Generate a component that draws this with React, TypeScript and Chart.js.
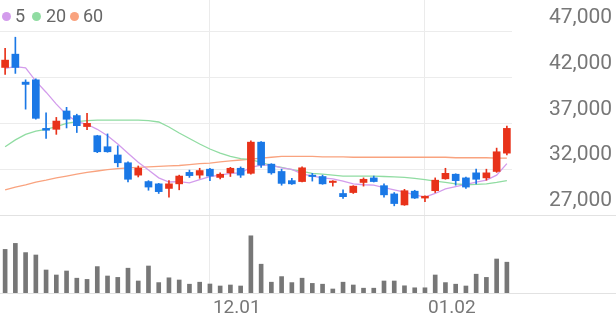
import React, { useEffect, useRef } from 'react';
import { Chart, registerables } from 'chart.js';

Chart.register(...registerables);

const dates = ['11.03','11.04','11.07','11.08','11.09','11.10','11.11','11.14','11.15','11.16','11.17','11.18','11.21','11.22','11.23','11.24','11.25','11.28','11.29','11.30','12.01','12.02','12.05','12.06','12.07','12.08','12.09','12.12','12.13','12.14','12.15','12.16','12.19','12.20','12.21','12.22','12.23','12.26','12.27','12.28','12.29','01.02','01.03','01.04','01.05','01.06','01.09','01.10','01.11','01.12'];

const opens = [43100,44550,41500,41750,36450,36350,38350,37850,36650,35650,34450,33550,32700,31350,30650,30400,29900,30400,31650,31350,32000,31100,31600,32100,31550,34950,32550,31750,30750,30650,31350,31200,30550,29350,29450,30550,31050,30200,29300,28100,29600,28850,29650,30950,31450,31050,31600,31050,31750,33750];
const highs = [45200,46400,41750,41850,38150,37650,38750,38000,38100,35700,35850,34550,32800,32350,30750,30450,30750,31350,31900,32100,32100,31600,32200,32250,35100,35000,32600,32000,31000,32250,31550,31350,30750,29750,30200,31050,31250,30400,29450,29800,29700,29100,31050,32100,31500,31150,32000,32000,34300,36700];
const lows = [42350,42450,38550,37450,35350,35800,36500,36000,36300,33800,33850,32250,30600,31150,29700,29350,28950,29750,31100,31000,30750,30950,31200,31100,31450,32200,31450,30250,30350,30600,30700,30350,30150,28800,29350,30150,30600,28950,28000,28050,28800,28450,29450,30900,30250,29900,30400,30800,31650,33550];
const closes = [43900,43100,41250,37550,36250,37250,37450,36750,37000,33900,33900,32700,30900,32100,30050,29550,30400,31250,31300,31850,31250,31450,32100,31350,34950,32450,31600,30450,30400,32150,31200,30400,30700,29000,30150,30900,30650,29200,28250,29650,28850,29050,30800,31550,30750,30050,30900,31600,33900,36450];

const ma5 = [43000,43200,43050,41600,40400,39100,37950,37200,36900,36350,35650,34750,33750,32750,31900,31050,30600,30650,30500,30870,31200,31350,31550,31600,32200,32450,32450,32150,31970,31500,31250,31050,30950,30700,30400,30300,30250,30000,29750,29500,29200,28950,29350,29850,30100,30350,30600,30800,31350,32600];
const ma20 = [34450,35200,35800,36150,36350,36650,37000,37200,37300,37350,37350,37350,37350,37350,37300,37150,36600,35950,35350,34750,34200,33750,33400,33150,33050,32750,32400,32200,31950,31750,31550,31450,31350,31250,31250,31250,31250,31200,31150,31100,31000,30850,30700,30550,30400,30300,30350,30400,30550,30750];
const ma60 = [29750,30050,30300,30600,30800,31050,31250,31450,31650,31800,31950,32050,32150,32200,32250,32300,32350,32400,32500,32600,32650,32800,32900,33000,33100,33200,33300,33400,33400,33400,33400,33350,33350,33350,33300,33300,33300,33300,33300,33300,33300,33300,33300,33300,33250,33250,33250,33250,33200,33200];

const volumes = [1090,1240,1010,950,575,450,550,370,340,660,425,390,620,300,675,260,380,325,220,270,225,175,200,175,1430,720,270,410,260,370,240,220,100,270,200,120,120,300,300,180,130,130,450,260,220,175,470,390,850,770];

const priceTicks = [27000, 32000, 37000, 42000, 47000];
const priceMin = 18490;
const priceMax = 50460;
const volumeMax = 7325;

const legendItems = [
  { label: '5', color: '#d39cec', dot: 1.5, text: 15 },
  { label: '20', color: '#90dca2', dot: 32, text: 46 },
  { label: '60', color: '#f9a37f', dot: 69.5, text: 83 },
];

const UP = '#e8321a';
const DOWN = '#1a78e6';

export default function App() {
  const ref = useRef<HTMLCanvasElement>(null);

  useEffect(() => {
    document.body.style.margin = '0';
    const colors = closes.map((c, i) => (c >= opens[i] ? UP : DOWN));
    const showLabel = (i: number) => i > 0 && dates[i].slice(0, 2) !== dates[i - 1].slice(0, 2);

    const panes = {
      id: 'panes',
      afterDraw(chart: any) {
        const ctx = chart.ctx;
        ctx.save();
        ctx.strokeStyle = '#e2e2e2';
        ctx.lineWidth = 1;
        const ys = [chart.scales.y.getPixelForValue(priceTicks[0]), chart.scales.yv.getPixelForValue(0)];
        for (const y of ys) {
          const yy = Math.round(y) + 0.5;
          ctx.beginPath();
          ctx.moveTo(0, yy);
          ctx.lineTo(chart.width, yy);
          ctx.stroke();
        }
        ctx.restore();
      },
    };

    const chart = new Chart(ref.current as HTMLCanvasElement, {
      type: 'bar',
      data: {
        labels: dates,
        datasets: [
          { type: 'bar', label: 'body', data: opens.map((o, i) => [o, closes[i]]) as any, backgroundColor: colors, barThickness: 7, grouped: false, order: 0, yAxisID: 'y' },
          { type: 'bar', label: 'wick', data: lows.map((l, i) => [l, highs[i]]) as any, backgroundColor: colors, barThickness: 1, grouped: false, order: 1, yAxisID: 'y' },
          { type: 'line', label: '5', data: ma5, borderColor: '#d39cec', borderWidth: 1.3, pointRadius: 0, order: 2, yAxisID: 'y' },
          { type: 'line', label: '20', data: ma20, borderColor: '#90dca2', borderWidth: 1.3, pointRadius: 0, order: 3, yAxisID: 'y' },
          { type: 'line', label: '60', data: ma60, borderColor: '#f9a37f', borderWidth: 1.3, pointRadius: 0, order: 4, yAxisID: 'y' },
          { type: 'bar', label: 'vol', data: volumes, backgroundColor: '#777777', barThickness: 4, grouped: false, order: 5, yAxisID: 'yv' },
        ] as any,
      },
      options: {
        animation: false,
        responsive: false,
        events: [],
        layout: { padding: 0 },
        plugins: { legend: { display: false }, tooltip: { enabled: false } },
        scales: {
          x: {
            offset: true,
            grid: {
              offset: false,
              drawTicks: false,
              color: (c: any) => (showLabel(c.index) ? '#ebebeb' : 'rgba(0,0,0,0)'),
            },
            border: { display: false },
            ticks: {
              autoSkip: false,
              maxRotation: 0,
              align: 'start',
              padding: 4,
              labelOffset: 3,
              color: '#777777',
              font: { family: 'Roboto', size: 19 },
              callback: (_v: any, i: number) => (showLabel(i) ? dates[i] : ''),
            },
            afterFit: (s: any) => { s.height = 28; s.paddingLeft = 0; s.paddingRight = 0; },
          },
          y: {
            position: 'right',
            min: priceMin,
            max: priceMax,
            afterBuildTicks: (s: any) => { s.ticks = priceTicks.map((v) => ({ value: v })); },
            grid: { color: '#ececec', drawTicks: false },
            border: { display: false },
            ticks: {
              autoSkip: false,
              padding: 37,
              labelOffset: -14,
              color: '#777777',
              font: { family: 'Roboto', size: 21 },
              callback: (v: any) => Number(v).toLocaleString('en-US'),
            },
            afterFit: (s: any) => { s.width = 104; s.paddingTop = 0; s.paddingBottom = 0; },
          },
          yv: {
            display: false,
            position: 'right',
            min: 0,
            max: volumeMax,
          },
        } as any,
      },
      plugins: [panes],
    });
    return () => chart.destroy();
  }, []);

  return (
    <div style={{ position: 'relative', width: 616, height: 321 }}>
      <canvas ref={ref} width={616} height={321} />
      {legendItems.map((it) => (
        <React.Fragment key={it.label}>
          <span style={{ position: 'absolute', left: it.dot, top: 11.5, width: 9, height: 9, borderRadius: '50%', background: it.color }} />
          <span style={{ position: 'absolute', left: it.text, top: 5, height: 22, lineHeight: '22px', fontFamily: 'Roboto', fontSize: 18, color: '#666666' }}>{it.label}</span>
        </React.Fragment>
      ))}
    </div>
  );
}
